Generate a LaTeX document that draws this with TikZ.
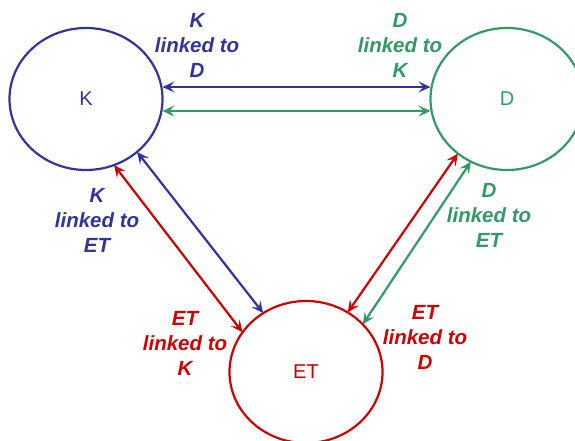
\documentclass[tikz,border=0pt]{standalone}
\usepackage{fontspec}
\setmainfont{Liberation Sans}
\usepackage{tikz}
\usetikzlibrary{arrows.meta,shapes.geometric,backgrounds}
\definecolor{kblue}{RGB}{51,51,153}
\definecolor{dgreen}{RGB}{51,153,102}
\definecolor{etred}{RGB}{204,0,0}
\begin{document}
\begin{tikzpicture}[x=1pt,y=-1pt,
	entity/.style={draw,line width=2.2pt,shape=ellipse,minimum width=153pt,minimum height=142pt,inner sep=0pt,outer sep=0pt,font=\fontsize{20}{24}\selectfont},
	link/.style={line width=2.2pt,{Stealth[length=12pt,width=11pt,inset=5pt]}-{Stealth[length=12pt,width=11pt,inset=5pt]}},
	caption/.style={align=center,inner sep=0pt,font=\fontsize{20.5}{25}\selectfont\bfseries\itshape}]
\useasboundingbox (0,0) rectangle (575,441);
\node[entity,kblue] (k) at (86,99) {K};
\node[entity,dgreen] (d) at (507,99) {D};
\node[entity,etred] (et) at (306,372) {ET};
\begin{scope}[on background layer]
\draw[link,kblue] ([yshift=12pt]k.east) -- ([yshift=12pt]d.west);
\draw[link,dgreen] ([yshift=-12pt]k.east) -- ([yshift=-12pt]d.west);
\draw[link,etred] (k.-67) -- (et.148);
\draw[link,kblue] (k.-46) -- (et.126);
\draw[link,etred] (d.-132) -- (et.55);
\draw[link,dgreen] (d.-120) -- (et.40);
\end{scope}
\node[caption,kblue] (kd) at (197,45) {K\\linked to\\D};
\node[caption,dgreen] (dk) at (400,45) {D\\linked to\\K};
\node[caption,kblue] (ket) at (97,220) {K\\linked to\\ET};
\node[caption,dgreen] (det) at (489,215) {D\\linked to\\ET};
\node[caption,etred] (etk) at (185,343) {ET\\linked to\\K};
\node[caption,etred] (etd) at (425,337) {ET\\linked to\\D};
\end{tikzpicture}
\end{document}
